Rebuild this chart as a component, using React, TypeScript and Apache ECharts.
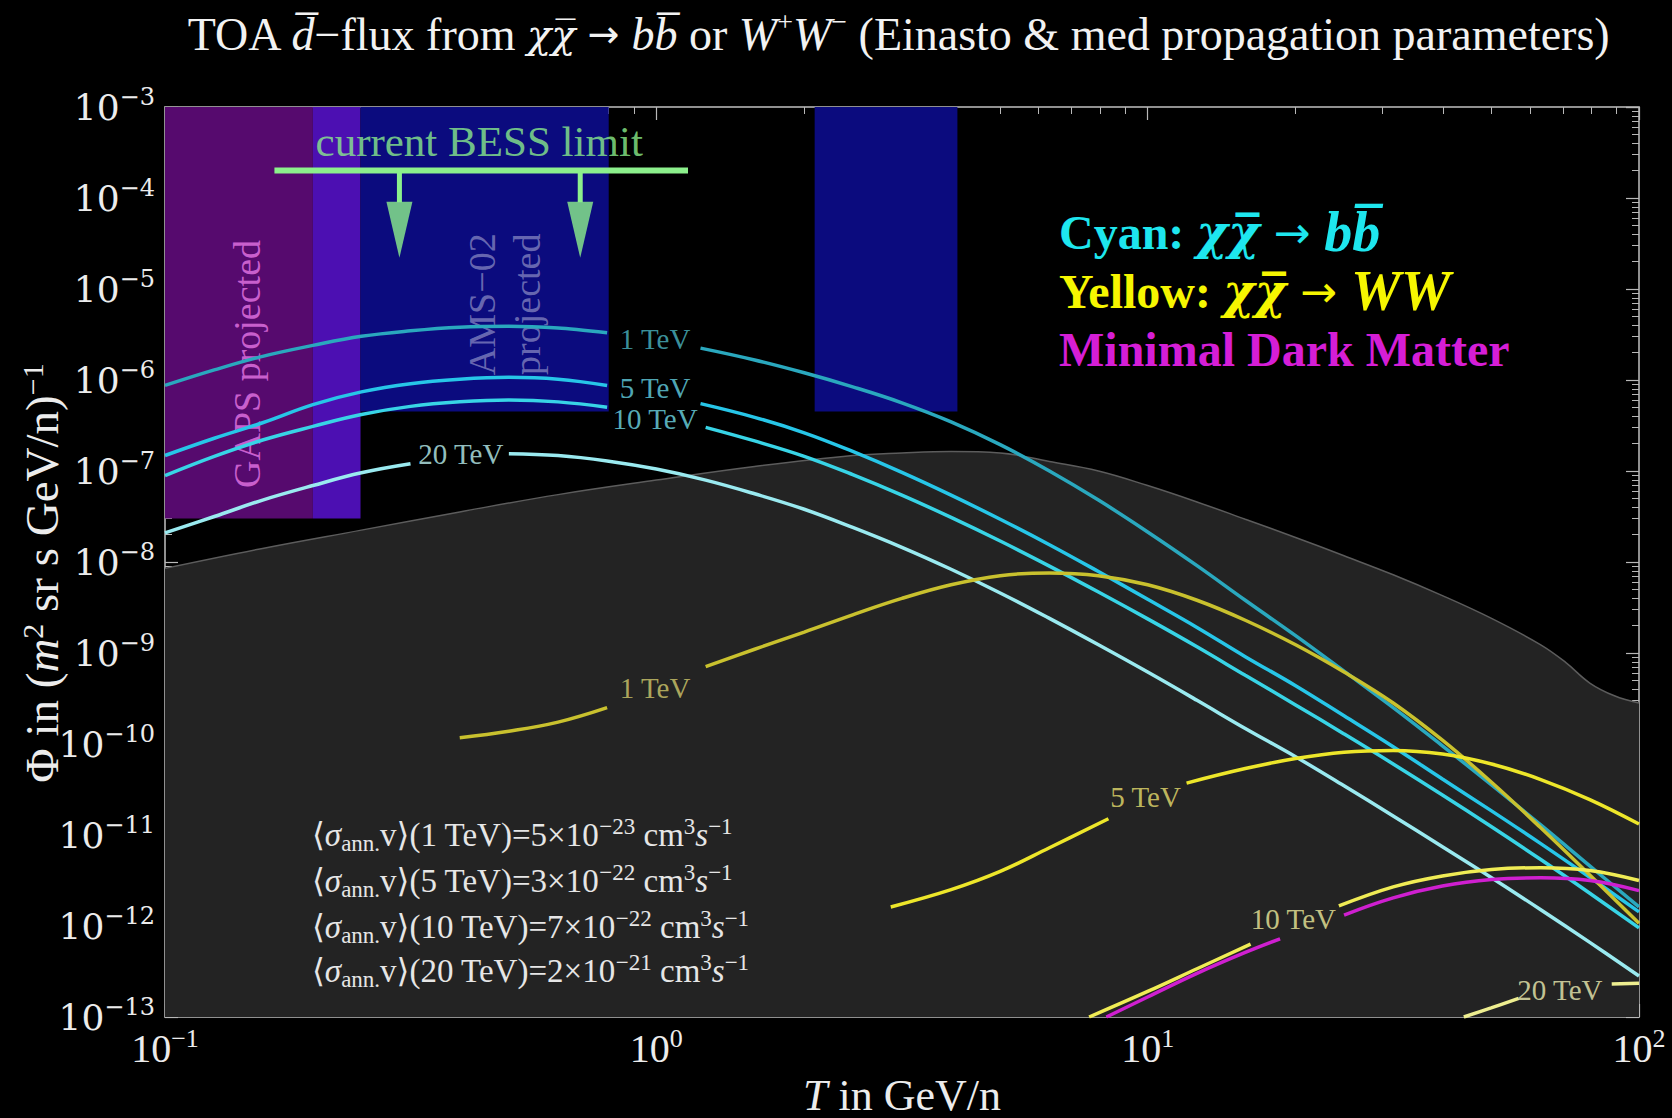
import React, { useEffect, useRef } from "react";
import * as echarts from "echarts";

const SERIF = '"Liberation Serif", "Times New Roman", "DejaVu Serif", serif';
const WIDE_SERIF = '"DejaVu Serif", "Liberation Serif", serif';
const ARROW_FONT = '"DejaVu Sans", "Liberation Serif", sans-serif';

// Axis ranges
const X_MIN = 0.1;
const X_MAX = 100;
const Y_MIN = 1e-13;
const Y_MAX = 1e-3;

// Secondary (astrophysical) anti-deuteron flux: grey shaded region
const BG_T = [0.1, 0.158, 0.251, 0.398, 0.631, 1, 1.585, 2.51, 3.16, 3.98, 5.01, 6.31, 7.94, 10, 12.6, 15.8, 20, 25.1, 31.6, 39.8, 50.1, 63.1, 70.8, 79.4, 89.1, 100];
const BG_PHI = [8.51e-9, 1.41e-8, 2.24e-8, 3.55e-8, 5.5e-8, 7.94e-8, 1.12e-7, 1.48e-7, 1.58e-7, 1.64e-7, 1.58e-7, 1.27e-7, 1.0e-7, 6.92e-8, 4.57e-8, 2.95e-8, 1.86e-8, 1.17e-8, 7.24e-9, 4.27e-9, 2.4e-9, 1.23e-9, 7.94e-10, 4.68e-10, 3.39e-10, 2.82e-10];

// chi chibar -> b bbar (cyan); null marks the gap left for the in-line label
const BB1_T = [0.1, 0.126, 0.158, 0.2, 0.251, 0.316, 0.398, 0.501, 0.631, 0.794, null, 1.23, 1.585, 2.0, 2.51, 3.16, 3.98, 5.01, 6.31, 7.94, 10, 12.6, 15.8, 20, 25.1, 31.6, 39.8, 50.1, 63.1, 79.4, 100];
const BB1_PHI = [8.71e-7, 1.29e-6, 1.82e-6, 2.4e-6, 3.02e-6, 3.47e-6, 3.8e-6, 3.89e-6, 3.72e-6, 3.31e-6, null, 2.24e-6, 1.66e-6, 1.2e-6, 8.41e-7, 5.62e-7, 3.47e-7, 1.95e-7, 1.0e-7, 4.79e-8, 2.14e-8, 9.12e-9, 3.8e-9, 1.55e-9, 6.31e-10, 2.51e-10, 9.55e-11, 3.55e-11, 1.29e-11, 4.57e-12, 1.62e-12];
const BB5_T = [0.1, 0.126, 0.158, 0.2, 0.251, 0.316, 0.398, 0.501, 0.631, 0.794, null, 1.23, 1.585, 2.0, 2.51, 3.16, 3.98, 5.01, 6.31, 7.94, 10, 12.6, 15.8, 20, 25.1, 31.6, 39.8, 50.1, 63.1, 79.4, 100];
const BB5_PHI = [1.48e-7, 2.29e-7, 3.39e-7, 5.37e-7, 7.41e-7, 9.12e-7, 1.02e-6, 1.07e-6, 1.02e-6, 8.71e-7, null, 5.5e-7, 3.89e-7, 2.63e-7, 1.64e-7, 9.66e-8, 5.43e-8, 2.95e-8, 1.55e-8, 7.85e-9, 3.89e-9, 1.91e-9, 9.12e-10, 4.37e-10, 2.04e-10, 9.33e-11, 4.12e-11, 1.84e-11, 8.04e-12, 3.43e-12, 1.43e-12];
const BB10_T = [0.1, 0.126, 0.158, 0.2, 0.251, 0.316, 0.398, 0.501, 0.631, 0.794, null, 1.26, 1.585, 2.0, 2.51, 3.16, 3.98, 5.01, 6.31, 7.94, 10, 12.6, 15.8, 20, 25.1, 31.6, 39.8, 50.1, 63.1, 79.4, 100];
const BB10_PHI = [8.91e-8, 1.45e-7, 2.19e-7, 3.09e-7, 4.17e-7, 5.13e-7, 5.75e-7, 6.03e-7, 5.75e-7, 5.01e-7, null, 3.02e-7, 2.14e-7, 1.45e-7, 9.12e-8, 5.43e-8, 3.09e-8, 1.7e-8, 9.02e-9, 4.68e-9, 2.37e-9, 1.17e-9, 5.69e-10, 2.69e-10, 1.29e-10, 6.03e-11, 2.75e-11, 1.23e-11, 5.37e-12, 2.29e-12, 9.55e-13];
const BB20_T = [0.1, 0.126, 0.158, 0.2, 0.251, 0.316, null, 0.501, 0.631, 0.794, 1.0, 1.26, 1.585, 2.0, 2.51, 3.16, 3.98, 5.01, 6.31, 7.94, 10, 12.6, 15.8, 20, 25.1, 31.6, 39.8, 50.1, 63.1, 79.4, 100];
const BB20_PHI = [2.09e-8, 3.16e-8, 4.79e-8, 6.92e-8, 9.55e-8, 1.2e-7, null, 1.55e-7, 1.48e-7, 1.29e-7, 1.05e-7, 7.94e-8, 5.62e-8, 3.8e-8, 2.4e-8, 1.45e-8, 8.32e-9, 4.57e-9, 2.4e-9, 1.23e-9, 6.17e-10, 3.02e-10, 1.48e-10, 7.24e-11, 3.47e-11, 1.62e-11, 7.41e-12, 3.39e-12, 1.51e-12, 6.61e-13, 2.82e-13];

// chi chibar -> W+ W- (yellow)
const WW1_T = [0.398, 0.501, 0.631, 0.794, null, 1.26, 1.585, 2.0, 2.51, 3.16, 3.98, 5.01, 6.31, 7.94, 10, 12.6, 15.8, 20, 25.1, 31.6, 39.8, 50.1, 63.1, 79.4, 100];
const WW1_PHI = [1.17e-10, 1.38e-10, 1.74e-10, 2.51e-10, null, 7.08e-10, 1.1e-9, 1.7e-9, 2.63e-9, 3.98e-9, 5.62e-9, 7.08e-9, 7.59e-9, 7.08e-9, 5.62e-9, 3.8e-9, 2.29e-9, 1.23e-9, 6.17e-10, 2.82e-10, 1.1e-10, 3.8e-11, 1.2e-11, 3.63e-12, 1.07e-12];
const WW5_T = [3.0, 3.98, 5.01, 6.31, 8.32, null, 12.0, 15.8, 20, 25.1, 31.6, 39.8, 50.1, 63.1, 79.4, 100];
const WW5_PHI = [1.62e-12, 2.51e-12, 3.98e-12, 7.24e-12, 1.51e-11, null, 3.72e-11, 5.37e-11, 6.92e-11, 8.13e-11, 8.51e-11, 7.76e-11, 6.03e-11, 4.07e-11, 2.45e-11, 1.32e-11];
const WW10_T = [7.6, 10, 12.6, 16.2, null, 24.5, 31.6, 39.8, 50.1, 63.1, 79.4, 100];
const WW10_PHI = [1.0e-13, 1.91e-13, 3.39e-13, 6.31e-13, null, 1.66e-12, 2.69e-12, 3.55e-12, 4.17e-12, 4.37e-12, 4.07e-12, 3.16e-12];
const WW20_T = [44, 50, 56.9, null, 88, 100];
const WW20_PHI = [1.0e-13, 1.26e-13, 1.6e-13, null, 2.3e-13, 2.35e-13];

// Minimal Dark Matter (magenta)
const MDM_T = [8.24, 10, 12.6, 15.8, 18.6, null, 25.1, 31.6, 39.8, 50.1, 63.1, 79.4, 100];
const MDM_PHI = [1.0e-13, 1.66e-13, 3.02e-13, 5.13e-13, 7.24e-13, null, 1.32e-12, 2.04e-12, 2.75e-12, 3.24e-12, 3.39e-12, 3.16e-12, 2.45e-12];

// In-line curve labels (anchor points in data coordinates)
const CURVE_LABELS = ["1 TeV", "5 TeV", "10 TeV", "20 TeV", "1 TeV", "5 TeV", "10 TeV", "20 TeV"];
const CURVE_LABEL_T = [0.994, 0.994, 0.994, 0.40, 0.994, 9.9, 19.8, 69];
const CURVE_LABEL_PHI = [2.83e-6, 8.2e-7, 3.7e-7, 1.55e-7, 4.1e-10, 2.6e-11, 1.2e-12, 2.0e-13];

// Experimental sensitivity regions
const REGION_NAMES = ["GAPS", "GAPS/AMS", "AMS-02 (low)", "AMS-02 (high)"];
const REGION_T0 = [0.1, 0.2, 0.25, 2.1];
const REGION_T1 = [0.2, 0.25, 0.8, 4.1];
const REGION_PHI_LO = [3e-8, 3e-8, 4.5e-7, 4.5e-7];
const REGION_PHI_HI = [1e-3, 1e-3, 1e-3, 1e-3];

// BESS limit annotation
const BESS_BAR_T = [0.167, 1.16];
const BESS_LIMIT_PHI = 2e-4;
const BESS_ARROW_T = [0.3, 0.7];
const BESS_ARROW_HEAD_PHI = 9e-5;
const BESS_ARROW_TIP_PHI = 2.2e-5;
const BESS_TEXT_T = 0.436;
const BESS_TEXT_PHI = 4.2e-4;

// Region texts
const REGION_TEXTS = ["GAPS projected", "AMS\u221202\nprojected"];
const REGION_TEXT_T = [0.147, 0.49];
const REGION_TEXT_PHI = [1.5e-6, 6.8e-6];

// Cross sections text
const SIGMA_MASS = ["1", "5", "10", "20"];
const SIGMA_MANT = ["5", "3", "7", "2"];
const SIGMA_EXP = ["\u221223", "\u221222", "\u221222", "\u221221"];

function pts(T: (number | null)[], P: (number | null)[]) {
  return T.map((t, i) => (t == null || P[i] == null ? ["-", "-"] : [t, P[i]]));
}

function supExp(v: number) {
  const e = Math.round(Math.log10(v));
  return (e < 0 ? "\u2212" : "") + Math.abs(e);
}

const TXT = "#ececec";
const TICK = "#b8b8b8";
const CHIBAR = "\u03c7\u0305";

const xTickRich = {
  b: { fontSize: 40, fontFamily: SERIF, color: TXT, lineHeight: 46 },
  s: { fontSize: 26, fontFamily: SERIF, color: TXT, lineHeight: 26, verticalAlign: "top" },
};
const yTickRich = {
  b: { fontSize: 36, fontFamily: WIDE_SERIF, color: TXT, lineHeight: 44 },
  s: { fontSize: 24, fontFamily: WIDE_SERIF, color: TXT, lineHeight: 24, verticalAlign: "top" },
};

function xAxisCfg(pos: "bottom" | "top", labels: boolean) {
  return {
    type: "log",
    logBase: 10,
    min: X_MIN,
    max: X_MAX,
    position: pos,
    splitNumber: 3,
    axisLine: { show: true, onZero: false, lineStyle: { color: "#9a9a9a", width: 1.5 } },
    axisTick: { show: true, inside: true, length: 13, lineStyle: { color: TICK, width: 1.2 } },
    minorTick: { show: true, splitNumber: 9, length: 7, lineStyle: { color: TICK, width: 1 } },
    splitLine: { show: false },
    minorSplitLine: { show: false },
    axisLabel: labels
      ? { show: true, margin: 8, formatter: (v: number) => `{b|10}{s|${supExp(v)}}`, rich: xTickRich }
      : { show: false },
    name: labels ? "{i|T}{n| in GeV/n}" : "",
    nameLocation: "middle",
    nameGap: 56,
    nameMoveOverlap: false,
    nameTextStyle: {
      rich: {
        i: { fontSize: 44, fontFamily: SERIF, fontStyle: "italic", color: TXT },
        n: { fontSize: 44, fontFamily: SERIF, color: TXT },
      },
    },
  };
}

function yAxisCfg(pos: "left" | "right", labels: boolean) {
  return {
    type: "log",
    logBase: 10,
    min: Y_MIN,
    max: Y_MAX,
    position: pos,
    splitNumber: 10,
    axisLine: { show: true, onZero: false, lineStyle: { color: "#9a9a9a", width: 1.5 } },
    axisTick: { show: true, inside: true, length: 13, lineStyle: { color: TICK, width: 1.2 } },
    minorTick: { show: true, splitNumber: 9, length: 7, lineStyle: { color: TICK, width: 1 } },
    splitLine: { show: false },
    minorSplitLine: { show: false },
    axisLabel: labels
      ? { show: true, margin: 10, formatter: (v: number) => `{b|10}{s|${supExp(v)}}`, rich: yTickRich }
      : { show: false },
    name: labels ? "{n|\u03a6 in (}{i|m}{s|2}{n| sr s GeV/n)}{s|\u22121}" : "",
    nameLocation: "middle",
    nameGap: 98,
    nameRotate: 90,
    nameMoveOverlap: false,
    nameTextStyle: {
      padding: [0, 22, 0, 0],
      rich: {
        i: { fontSize: 47, fontFamily: SERIF, fontStyle: "italic", color: TXT, lineHeight: 50 },
        n: { fontSize: 47, fontFamily: SERIF, color: TXT, lineHeight: 50 },
        s: { fontSize: 30, fontFamily: SERIF, color: TXT, lineHeight: 30, verticalAlign: "top" },
      },
    },
  };
}

function curve(name: string, T: (number | null)[], P: (number | null)[], color: string, z = 3) {
  return {
    type: "line",
    name,
    data: pts(T, P),
    showSymbol: false,
    symbol: "none",
    smooth: 0.4,
    connectNulls: false,
    silent: true,
    z,
    lineStyle: { color, width: 3.5 },
    itemStyle: { color },
  };
}

const CURVE_LABEL_COLORS = ["#4cb8c4", "#66d4e4", "#70dce8", "#bdf3f2", "#d2ca6c", "#e8df6e", "#efec9c", "#efefb4"];
const REGION_COLORS = ["#560a6e", "#4c0fb2", "#0b0b7e", "#0b0b7e"];
const REGION_TEXT_COLORS = ["#e878e8", "#8080be"];
const BESS_GREEN = "#8cf08c";

function buildOption() {
  const series: any[] = [];

  series.push({
    type: "line",
    name: "Secondary background",
    data: pts(BG_T, BG_PHI),
    showSymbol: false,
    symbol: "none",
    smooth: 0.4,
    silent: true,
    z: 1,
    lineStyle: { color: "#5c5c5c", width: 1.5 },
    areaStyle: { color: "#232323", opacity: 1, origin: "start" },
    markArea: {
      silent: true,
      data: REGION_NAMES.map((n, i) => [
        { name: n, xAxis: REGION_T0[i], yAxis: REGION_PHI_HI[i], itemStyle: { color: REGION_COLORS[i], opacity: 1 } },
        { xAxis: REGION_T1[i], yAxis: REGION_PHI_LO[i] },
      ]),
      label: { show: false },
    },
  });

  // region texts
  series.push({
    type: "scatter",
    name: "region texts",
    silent: true,
    z: 2,
    symbolSize: 1,
    itemStyle: { color: "rgba(0,0,0,0)" },
    data: REGION_TEXTS.map((t, i) => ({
      name: t,
      value: [REGION_TEXT_T[i], REGION_TEXT_PHI[i]],
      label: { color: REGION_TEXT_COLORS[i], fontSize: 38, lineHeight: i === 0 ? 40 : 45 },
    })),
    label: { show: true, position: "inside", rotate: 90, formatter: "{b}", fontFamily: SERIF, align: "center", verticalAlign: "middle" },
  });

  series.push(curve("b\u0305b 1 TeV", BB1_T, BB1_PHI, "#2aa8be"));
  series.push(curve("b\u0305b 5 TeV", BB5_T, BB5_PHI, "#27c6e8"));
  series.push(curve("b\u0305b 10 TeV", BB10_T, BB10_PHI, "#38d4e6"));
  series.push(curve("b\u0305b 20 TeV", BB20_T, BB20_PHI, "#9aeaf0"));
  series.push(curve("WW 1 TeV", WW1_T, WW1_PHI, "#c9c12e", 4));
  series.push(curve("WW 5 TeV", WW5_T, WW5_PHI, "#ede62a", 4));
  series.push(curve("MDM", MDM_T, MDM_PHI, "#cf1fd0", 4));
  series.push(curve("WW 10 TeV", WW10_T, WW10_PHI, "#f0ec55", 4));
  series.push(curve("WW 20 TeV", WW20_T, WW20_PHI, "#eeee90", 4));

  // curve labels
  series.push({
    type: "scatter",
    name: "curve labels",
    silent: true,
    z: 6,
    symbolSize: 1,
    itemStyle: { color: "rgba(0,0,0,0)" },
    data: CURVE_LABELS.map((t, i) => ({
      name: t,
      value: [CURVE_LABEL_T[i], CURVE_LABEL_PHI[i]],
      label: { color: CURVE_LABEL_COLORS[i] },
    })),
    label: { show: true, position: "inside", formatter: "{b}", fontFamily: SERIF, fontSize: 29 },
  });

  // BESS bar
  series.push({
    type: "line",
    name: "BESS limit",
    data: BESS_BAR_T.map((t) => [t, BESS_LIMIT_PHI]),
    showSymbol: false,
    symbol: "none",
    silent: true,
    z: 5,
    lineStyle: { color: BESS_GREEN, width: 6 },
  });
  series.push({
    type: "line",
    name: "BESS arrows",
    data: BESS_ARROW_T.flatMap((t, i) => {
      const seg: any[] = [[t, BESS_LIMIT_PHI], [t, BESS_ARROW_HEAD_PHI]];
      return i > 0 ? [["-", "-"], ...seg] : seg;
    }),
    showSymbol: false,
    symbol: "none",
    connectNulls: false,
    silent: true,
    z: 5,
    lineStyle: { color: BESS_GREEN, width: 5 },
  });
  series.push({
    type: "scatter",
    name: "BESS arrow heads",
    silent: true,
    z: 5,
    symbol: "path://M0,0L10,0L5,19Z",
    symbolSize: [26, 56],
    symbolOffset: [0, -28],
    itemStyle: { color: BESS_GREEN },
    data: BESS_ARROW_T.map((t) => [t, BESS_ARROW_TIP_PHI]),
  });
  series.push({
    type: "scatter",
    name: "BESS text",
    silent: true,
    z: 5,
    symbolSize: 1,
    itemStyle: { color: "rgba(0,0,0,0)" },
    data: [{ name: "current BESS limit", value: [BESS_TEXT_T, BESS_TEXT_PHI] }],
    label: { show: true, position: "inside", formatter: "{b}", fontFamily: SERIF, fontSize: 43, color: BESS_GREEN },
  });

  const sigmaRich = {
    n: { fontSize: 33, fontFamily: SERIF, fill: "#e6e6e6", lineHeight: 40 },
    i: { fontSize: 33, fontFamily: SERIF, fontStyle: "italic", fill: "#e6e6e6", lineHeight: 40 },
    sub: { fontSize: 23, fontFamily: SERIF, fill: "#e6e6e6", lineHeight: 25, verticalAlign: "bottom" },
    sup: { fontSize: 23, fontFamily: SERIF, fill: "#e6e6e6", lineHeight: 22, verticalAlign: "top" },
  };
  const sigmaY = [835, 881, 927, 971];

  const legendRich = (c: string) => ({
    n: { fontSize: 48, fontFamily: SERIF, fontWeight: "bold", fill: c, lineHeight: 58 },
    i: { fontSize: 56, fontFamily: SERIF, fontWeight: "bold", fontStyle: "italic", fill: c, lineHeight: 58 },
    g: { fontSize: 48, fontFamily: WIDE_SERIF, fontWeight: "bold", fontStyle: "italic", fill: c, lineHeight: 58 },
    a: { fontSize: 44, fontFamily: ARROW_FONT, fill: c, lineHeight: 58 },
  });

  const titleRich = {
    n: { fontSize: 46, fontFamily: SERIF, fill: "#f2f2f2", lineHeight: 54 },
    i: { fontSize: 46, fontFamily: SERIF, fontStyle: "italic", fill: "#f2f2f2", lineHeight: 54 },
    g: { fontSize: 40, fontFamily: WIDE_SERIF, fontStyle: "italic", fill: "#f2f2f2", lineHeight: 54 },
    a: { fontSize: 38, fontFamily: ARROW_FONT, fill: "#f2f2f2", lineHeight: 54 },
    s: { fontSize: 28, fontFamily: SERIF, fill: "#f2f2f2", lineHeight: 28, verticalAlign: "top" },
  };

  const graphic: any[] = [
    {
      type: "text",
      x: 898,
      y: 34,
      z: 100,
      silent: true,
      style: {
        text: `{n|TOA }{i|d\u0305}{n|\u2212flux from }{g|\u03c7${CHIBAR}}{a| \u2192 }{i|bb\u0305}{n| or }{i|W}{s|+}{i|W}{s|\u2212}{n| (Einasto & med propagation parameters)}`,
        align: "center",
        verticalAlign: "middle",
        rich: titleRich,
      },
    },
    {
      type: "text",
      x: 1059,
      y: 232,
      z: 100,
      silent: true,
      style: {
        text: `{n|Cyan: }{g|\u03c7${CHIBAR}}{a| \u2192 }{i|bb\u0305}`,
        align: "left",
        verticalAlign: "middle",
        rich: legendRich("#1ee6ee"),
      },
    },
    {
      type: "text",
      x: 1059,
      y: 291,
      z: 100,
      silent: true,
      style: {
        text: `{n|Yellow: }{g|\u03c7${CHIBAR}}{a| \u2192 }{i|WW}`,
        align: "left",
        verticalAlign: "middle",
        rich: legendRich("#f6f600"),
      },
    },
    {
      type: "text",
      x: 1059,
      y: 349,
      z: 100,
      silent: true,
      style: {
        text: "{n|Minimal Dark Matter}",
        align: "left",
        verticalAlign: "middle",
        rich: legendRich("#d51ed6"),
      },
    },
    ...SIGMA_MASS.map((m, k) => ({
      type: "text",
      x: 312,
      y: sigmaY[k],
      z: 100,
      silent: true,
      style: {
        text: `{n|\u27e8}{i|\u03c3}{sub|ann.}{n|v\u27e9(${m} TeV)=${SIGMA_MANT[k]}\u00d710}{sup|${SIGMA_EXP[k]}}{n| cm}{sup|3}{i|s}{sup|\u22121}`,
        align: "left",
        verticalAlign: "middle",
        rich: sigmaRich,
      },
    })),
  ];

  return {
    animation: false,
    backgroundColor: "#000000",
    textStyle: { fontFamily: SERIF },
    grid: {
      left: 165,
      top: 107,
      width: 1474,
      height: 910,
      show: true,
      backgroundColor: "#000000",
      borderColor: "#9a9a9a",
      borderWidth: 1.5,
      containLabel: false,
      outerBoundsMode: "none",
    },
    xAxis: [xAxisCfg("bottom", true), xAxisCfg("top", false)],
    yAxis: [yAxisCfg("left", true), yAxisCfg("right", false)],
    series,
    graphic,
  };
}

export default function App() {
  const ref = useRef<HTMLDivElement>(null);
  useEffect(() => {
    document.body.style.margin = "0";
    document.body.style.background = "#000";
    const chart = echarts.init(ref.current!, undefined, { renderer: "svg" });
    chart.setOption(buildOption() as any);
    return () => chart.dispose();
  }, []);
  return <div ref={ref} style={{ width: 1672, height: 1118, background: "#000" }} />;
}
